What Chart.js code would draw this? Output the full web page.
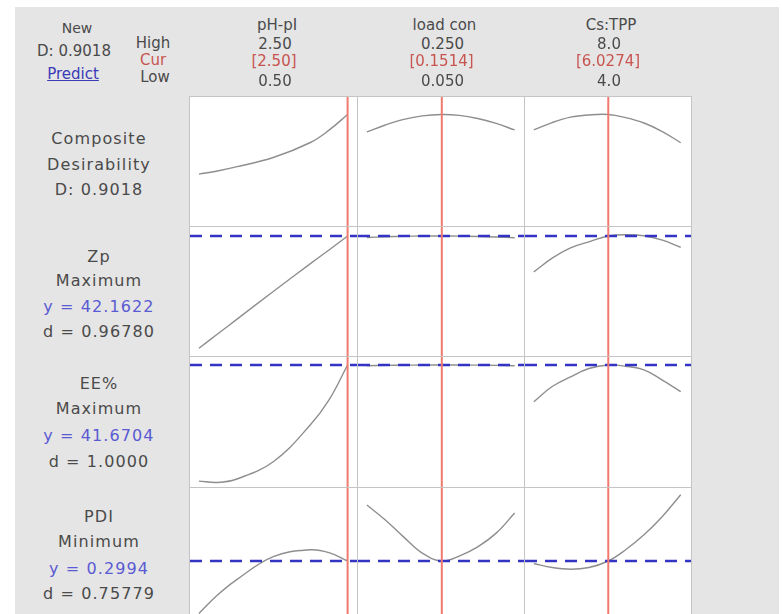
<!DOCTYPE html>
<html>
<head>
<meta charset="utf-8">
<script src="https://cdn.jsdelivr.net/npm/chart.js@4.4.0/dist/chart.umd.min.js"></script>
<style>
  html, body { margin: 0; padding: 0; background: #fff; overflow: hidden; }
  body { width: 782px; height: 614px; position: relative; font-family: "DejaVu Sans", sans-serif; }
  #frame { position: absolute; left: 15px; top: 7px; width: 764px; height: 620px; background: #e5e5e5; }
  .cell { position: absolute; background: #fff; outline: 1px solid #c4c4c4; }
  .cell canvas { display: block; }
  .lbl { position: absolute; white-space: nowrap; color: #4a4a4a; transform: translate(-50%, -50%); line-height: 20px; }
</style>
</head>
<body>
<div id="frame"></div>
<script>
// factors (columns)
const factors = ['pH-pI', 'load con', 'Cs:TPP'];
const highLabels = ['2.50', '0.250', '8.0'];
const curLabels = ['[2.50]', '[0.1514]', '[6.0274]'];
const lowLabels = ['0.50', '0.050', '4.0'];
const lows = [0.5, 0.05, 4.0];
const highs = [2.5, 0.25, 8.0];
const curs = [2.5, 0.1514, 6.0274];

// x grid per factor
const xPH = [0.5, 0.75, 1.0, 1.5, 2.0, 2.25, 2.5];
const xLoad = [0.05, 0.075, 0.10, 0.125, 0.1514, 0.175, 0.20, 0.225, 0.25];
const xTPP = [4.0, 4.5, 5.0, 5.5, 6.0274, 6.5, 7.0, 7.5, 8.0];

// composite desirability
const dPH = [0.636, 0.650, 0.668, 0.710, 0.777, 0.832, 0.902];
const dLoad = [0.824, 0.855, 0.880, 0.896, 0.902, 0.898, 0.884, 0.862, 0.833];
const dTPP = [0.833, 0.866, 0.890, 0.900, 0.902, 0.888, 0.864, 0.826, 0.776];

// Zp
const zpPH = [21.6, 24.2, 26.8, 32.0, 37.1, 39.6, 42.16];
const zpLoad = [41.90, 42.02, 42.10, 42.15, 42.16, 42.14, 42.08, 41.98, 41.85];
const zpTPP = [35.6, 38.1, 40.0, 41.1, 42.16, 42.4, 42.2, 41.4, 40.1];

// EE%
const eePH = [16.5, 16.2, 16.9, 20.7, 28.7, 34.1, 41.67];
const eeLoad = [41.50, 41.58, 41.63, 41.66, 41.67, 41.66, 41.63, 41.58, 41.50];
const eeTPP = [33.7, 37.0, 39.1, 40.9, 41.67, 41.4, 40.6, 38.4, 35.9];

// PDI
const pdiPH = [0.208, 0.240, 0.266, 0.307, 0.319, 0.314, 0.2994];
const pdiLoad = [0.397, 0.371, 0.341, 0.313, 0.2994, 0.308, 0.324, 0.348, 0.383];
const pdiTPP = [0.295, 0.288, 0.285, 0.288, 0.2994, 0.319, 0.345, 0.377, 0.415];

// responses (rows)
const yMins = [0.40, 20, 15, 0.20];
const yMaxs = [0.98, 43.81, 43.40, 0.4267];
const targets = [null, 42.1622, 41.6704, 0.2994];

const xGrids = [xPH, xLoad, xTPP];
const rows = [
  [dPH, dLoad, dTPP],
  [zpPH, zpLoad, zpTPP],
  [eePH, eeLoad, eeTPP],
  [pdiPH, pdiLoad, pdiTPP]
];

// layout
const colX = [190, 358, 525], colW = [168, 167, 166];
const rowY = [97, 227, 357, 488], rowH = [130, 130, 131, 130];

rows.forEach((series, r) => {
  series.forEach((vals, c) => {
    const cell = document.createElement('div');
    cell.className = 'cell';
    cell.style.left = colX[c] + 'px';
    cell.style.top = rowY[r] + 'px';
    cell.style.width = colW[c] + 'px';
    cell.style.height = rowH[r] + 'px';
    const cv = document.createElement('canvas');
    cv.width = colW[c];
    cv.height = rowH[r];
    cell.appendChild(cv);
    document.body.appendChild(cell);

    const span = highs[c] - lows[c];
    const xMin = lows[c] - 0.06 * span, xMax = highs[c] + 0.07 * span;
    const datasets = [{
      data: xGrids[c].map((x, i) => ({ x: x, y: vals[i] })),
      borderColor: '#8e8e8e', borderWidth: 1.4, pointRadius: 0,
      tension: 0.4, order: 3
    }];
    if (targets[r] !== null) {
      datasets.push({
        data: [{ x: xMin, y: targets[r] }, { x: xMax, y: targets[r] }],
        borderColor: '#3434c4', borderWidth: 2.5, borderDash: [12, 8], pointRadius: 0, order: 2
      });
    }
    datasets.push({
      data: [{ x: curs[c], y: yMins[r] }, { x: curs[c], y: yMaxs[r] }],
      borderColor: '#f07a6e', borderWidth: 2, pointRadius: 0, order: 1
    });

    new Chart(cv.getContext('2d'), {
      type: 'line',
      data: { datasets: datasets },
      options: {
        responsive: false, animation: false,
        layout: { padding: 0 },
        plugins: { legend: { display: false }, tooltip: { enabled: false } },
        scales: {
          x: { type: 'linear', min: xMin, max: xMax, display: false },
          y: { min: yMins[r], max: yMaxs[r], display: false }
        }
      }
    });
  });
});

function label(text, cx, cy, size, color, extra) {
  const d = document.createElement('div');
  d.className = 'lbl';
  d.textContent = text;
  d.style.left = cx + 'px';
  d.style.top = cy + 'px';
  d.style.fontSize = size + 'px';
  if (color) d.style.color = color;
  if (extra) Object.assign(d.style, extra);
  document.body.appendChild(d);
}

const RED = '#c85450', BLUE = '#5a5ad2';

// header
label('New', 77, 28, 14);
label('D: 0.9018', 74, 51, 15);
label('Predict', 73, 74, 15, '#3a3ab8', { textDecoration: 'underline' });
label('High', 153, 43, 15);
label('Cur', 153, 60, 15, RED);
label('Low', 155, 77, 15);
factors.forEach((f, c) => {
  const cx = colX[c] + colW[c] / 2;
  label(f, cx + 3, 25, 15);
  label(highLabels[c], cx + 1, 44, 15);
  label(curLabels[c], cx, 61, 15, RED);
  label(lowLabels[c], cx + 1, 81, 15);
});

// row labels
const sideText = [
  [['Composite', 139], ['Desirability', 165], ['D: 0.9018', 190]],
  [['Zp', 257], ['Maximum', 281], ['y = 42.1622', 307, BLUE], ['d = 0.96780', 332]],
  [['EE%', 384], ['Maximum', 409], ['y = 41.6704', 436, BLUE], ['d = 1.0000', 462]],
  [['PDI', 517], ['Minimum', 542], ['y = 0.2994', 569, BLUE], ['d = 0.75779', 594]]
];
sideText.forEach(lines => lines.forEach(l => label(l[0], 99, l[1], 16, l[2], { letterSpacing: '1.1px' })));
</script>
</body>
</html>
